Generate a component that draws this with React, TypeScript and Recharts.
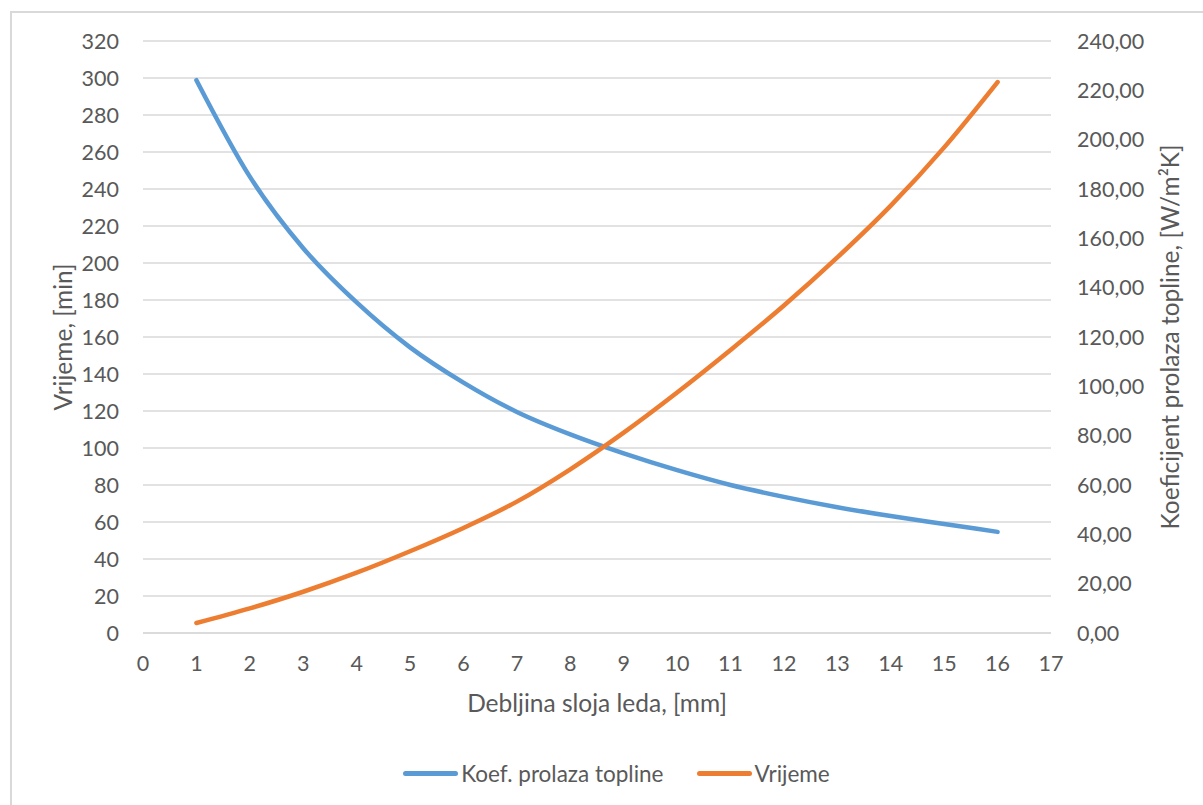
import React from 'react';
import { LineChart, Line, XAxis, YAxis, CartesianGrid, Legend } from 'recharts';

const thickness = [1, 2, 3, 4, 5, 6, 7, 8, 9, 10, 11, 12, 13, 14, 15, 16];
const koef = [224.1, 185, 156, 134, 115.8, 101.5, 89.6, 80.5, 72.8, 66, 60, 55.2, 51, 47.4, 44.2, 41];
const vrijeme = [5.4, 13.3, 22.3, 32.6, 44.2, 56.8, 71, 88.5, 108.3, 130, 153, 177, 203, 231, 262.5, 297.8];

const xTicks = [0, 1, 2, 3, 4, 5, 6, 7, 8, 9, 10, 11, 12, 13, 14, 15, 16, 17];
const leftTicks = [0, 20, 40, 60, 80, 100, 120, 140, 160, 180, 200, 220, 240, 260, 280, 300, 320];
const rightTicks = [0, 20, 40, 60, 80, 100, 120, 140, 160, 180, 200, 220, 240];

const data = thickness.map((d, i) => ({ d, koef: koef[i], vrijeme: vrijeme[i] }));

const FONT = 'Lato, "Open Sans", sans-serif';
const TXT = '#595959';
const BLUE = '#5B9BD5';
const ORANGE = '#ED7D31';

const tickStyle = { fill: TXT, fontSize: 21.5, fontFamily: FONT };
const TITLE_SIZE = 24.5;

const LegendContent = () => (
  <div style={{ display: 'flex', justifyContent: 'center', alignItems: 'center', fontFamily: FONT, fontSize: 22.5, color: TXT, paddingLeft: 30 }}>
    <div style={{ display: 'flex', alignItems: 'center', marginRight: 33 }}>
      <div style={{ width: 55, height: 5, borderRadius: 3, background: BLUE, marginRight: 3 }} />
      <span>Koef. prolaza topline</span>
    </div>
    <div style={{ display: 'flex', alignItems: 'center' }}>
      <div style={{ width: 55, height: 5, borderRadius: 3, background: ORANGE, marginRight: 3 }} />
      <span>Vrijeme</span>
    </div>
  </div>
);

export default function App() {
  return (
    <div style={{ position: 'absolute', left: 0, top: 0, width: 1203, height: 805, background: '#fff', overflow: 'hidden' }}>
      <div style={{ position: 'absolute', left: 10, top: 11, width: 1210, height: 810, border: '2px solid #d9d9d9', boxSizing: 'border-box' }} />
      <div style={{ position: 'absolute', left: 0, top: 0 }}>
        <LineChart width={1203} height={805} data={data} margin={{ top: 41, right: 40, bottom: 82, left: 0 }}>
          <CartesianGrid yAxisId="left" vertical={false} stroke="#d9d9d9" strokeWidth={1.3} />
          <XAxis
            dataKey="d"
            type="number"
            domain={[0, 17]}
            ticks={xTicks}
            interval={0}
            tickLine={false}
            tickSize={6}
            tickMargin={17}
            axisLine={{ stroke: '#d9d9d9', strokeWidth: 1.3 }}
            tick={tickStyle}
            height={90}
            label={{ value: 'Debljina sloja leda, [mm]', position: 'insideBottom', offset: 11, style: { fill: TXT, fontSize: TITLE_SIZE, fontFamily: FONT } }}
          />
          <YAxis
            yAxisId="left"
            orientation="left"
            domain={[0, 320]}
            ticks={leftTicks}
            interval={0}
            width={143}
            tickLine={false}
            axisLine={false}
            tickSize={6}
            tickMargin={18}
            tick={tickStyle}
            label={{
              content: (props: any) => {
                const vb = props.viewBox;
                const cx = vb.x + 62;
                const cy = vb.y + vb.height / 2;
                return (
                  <text x={cx} y={cy} transform={`rotate(-90 ${cx} ${cy})`} textAnchor="middle" dominantBaseline="central" fill={TXT} fontSize={TITLE_SIZE} fontFamily={FONT}>
                    Vrijeme, [min]
                  </text>
                );
              },
            }}
          />
          <YAxis
            yAxisId="right"
            orientation="right"
            domain={[0, 240]}
            ticks={rightTicks}
            interval={0}
            width={112}
            tickLine={false}
            axisLine={false}
            tickSize={6}
            tickMargin={20}
            tick={tickStyle}
            tickFormatter={(v: number) => v.toFixed(2).replace('.', ',')}
            label={{
              content: (props: any) => {
                const vb = props.viewBox;
                const cx = vb.x + 118;
                const cy = vb.y + vb.height / 2;
                return (
                  <text x={cx} y={cy} transform={`rotate(-90 ${cx} ${cy})`} textAnchor="middle" dominantBaseline="central" fill={TXT} fontSize={TITLE_SIZE} fontFamily={FONT}>
                    Koeficijent prolaza topline, [W/m²K]
                  </text>
                );
              },
            }}
          />
          <Legend
            layout="horizontal"
            verticalAlign="middle"
            align="center"
            content={<LegendContent />}
            wrapperStyle={{ position: 'absolute', top: 760, left: 0, width: 1203 }}
          />
          <Line
            yAxisId="right"
            dataKey="koef"
            name="Koef. prolaza topline"
            type="monotone"
            stroke={BLUE}
            strokeWidth={4.5}
            strokeLinecap="round"
            dot={false}
            activeDot={false}
            isAnimationActive={false}
          />
          <Line
            yAxisId="left"
            dataKey="vrijeme"
            name="Vrijeme"
            type="monotone"
            stroke={ORANGE}
            strokeWidth={4.5}
            strokeLinecap="round"
            dot={false}
            activeDot={false}
            isAnimationActive={false}
          />
        </LineChart>
      </div>
    </div>
  );
}
